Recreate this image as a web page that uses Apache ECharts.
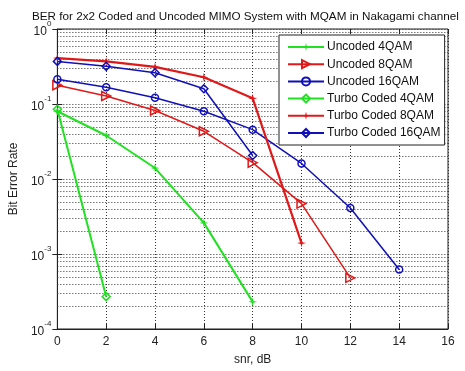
<!DOCTYPE html>
<html><head><meta charset="utf-8">
<script src="https://cdn.jsdelivr.net/npm/echarts@6/dist/echarts.min.js"></script>
<style>html,body{margin:0;padding:0;background:#fff}#c{width:465px;height:371px}</style>
</head><body><div id="c"></div>
<script>
var snr = [0, 2, 4, 6, 8, 10, 12, 14];
var uncoded4 = [0.08, 0.038, 0.014, 0.0026, 0.00023];
var uncoded8 = [0.178, 0.128, 0.082, 0.0433, 0.0165, 0.0047, 0.00048];
var uncoded16 = [0.214, 0.167, 0.121, 0.08, 0.0455, 0.0161, 0.0041, 0.00062];
var turbo4 = [0.085, 0.00027];
var turbo8 = [0.41, 0.37, 0.312, 0.227, 0.119, 0.0014];
var turbo16 = [0.37, 0.318, 0.261, 0.16, 0.0206];
var names = ['Uncoded 4QAM','Uncoded 8QAM','Uncoded 16QAM','Turbo Coded 4QAM','Turbo Coded 8QAM','Turbo Coded 16QAM'];
var decadeLabels = {'1':'0','0.1':'-1','0.01':'-2','0.001':'-3','0.0001':'-4'};

function pairs(arr){ return arr.map(function(v,i){ return [snr[i], v]; }); }

var minorVals = [];
for (var e = -4; e < 0; e++) for (var m = 2; m <= 9; m++) minorVals.push(m * Math.pow(10, e));

var GREEN = '#22e022', RED = '#e01818', BLUE = '#1010b8';
var CLEAR = 'rgba(255,255,255,0)';
var starPath = 'path://M5,0 L6,4 L10,5 L6,6 L5,10 L4,6 L0,5 L4,4 Z';
var grid = {left: 52, right: 17, top: 29, bottom: 31};
var dotted = {type: [1, 2], color: '#333', width: 1};

var chart = echarts.init(document.getElementById('c'));
chart.setOption({
  animation: false,
  backgroundColor: '#fff',
  textStyle: {fontFamily: 'Liberation Sans, Arial, sans-serif'},
  title: {text: 'BER for 2x2 Coded and Uncoded MIMO System with MQAM in Nakagami channel',
    left: 27, top: 6, textStyle: {fontSize: 11.7, fontWeight: 'normal', color: '#111', fontFamily: 'Liberation Sans, Arial, sans-serif'}},
  grid: Object.assign({show: true, borderColor: '#222', borderWidth: 1, backgroundColor: '#fff'}, grid),
  legend: {
    orient: 'vertical', left: 279, top: 35, data: names,
    itemWidth: 36, itemHeight: 10, itemGap: 5.2,
    padding: [6, 4, 6, 8],
    backgroundColor: '#fff', borderColor: '#222', borderWidth: 1, borderRadius: 0,
    textStyle: {fontSize: 12, color: '#111', padding: [0,0,0,-2]}
  },
  xAxis: [{
    type: 'value', min: 0, max: 16, interval: 2,
    name: 'snr, dB', nameLocation: 'middle', nameGap: 25,
    nameTextStyle: {fontSize: 12, color: '#222'},
    axisLine: {show: true, lineStyle: {color: '#222'}},
    axisTick: {show: true, inside: true, length: 5, lineStyle: {color: '#222'}},
    axisLabel: {fontSize: 12, color: '#222', margin: 7},
    splitLine: {show: true, lineStyle: dotted}
  }, {
    type: 'value', min: 0, max: 16, interval: 2, position: 'top',
    axisLine: {show: false}, axisLabel: {show: false},
    axisTick: {show: true, inside: true, length: 5, lineStyle: {color: '#222'}},
    splitLine: {show: false}
  }],
  yAxis: [{
    type: 'log', logBase: 10, min: 0.0001, max: 1,
    name: 'Bit Error Rate', nameLocation: 'middle', nameGap: 32,
    nameTextStyle: {fontSize: 12, color: '#222'},
    axisLine: {show: true, lineStyle: {color: '#222'}},
    axisTick: {show: true, inside: true, length: 5, lineStyle: {color: '#222'}},
    axisLabel: {
      margin: 6,
      formatter: function(v){
        var k = String(+v.toPrecision(3));
        var ex = decadeLabels[k];
        if (ex === undefined) ex = String(Math.round(Math.log10(v)));
        return '{a|10}{b|' + ex + '}';
      },
      rich: {a: {fontSize: 12, color: '#222', padding: [6,0,0,0]}, b: {fontSize: 8, color: '#222', verticalAlign: 'top', padding: [0,0,6,0]}}
    },
    splitLine: {show: true, lineStyle: dotted}
  }, {
    type: 'log', logBase: 10, min: 0.0001, max: 1, position: 'right',
    axisLine: {show: false}, axisLabel: {show: false},
    axisTick: {show: true, inside: true, length: 5, lineStyle: {color: '#222'}},
    splitLine: {show: false}
  }],
  series: [
    {type: 'custom', silent: true, z: 1, data: minorVals.map(function(v){ return [0, v]; }),
     renderItem: function(params, api){
       var p = api.coord([0, api.value(1)]);
       var cs = params.coordSys;
       return {type: 'line', shape: {x1: cs.x, y1: Math.round(p[1]) + 0.5, x2: cs.x + cs.width, y2: Math.round(p[1]) + 0.5},
         style: {stroke: '#333', lineDash: [1, 2], lineWidth: 1}};
     }},
    {name: names[0], type: 'line', data: pairs(uncoded4), color: GREEN, z: 3,
     symbol: starPath, symbolSize: 9, lineStyle: {width: 2, color: GREEN},
     itemStyle: {color: GREEN}},
    {name: names[1], type: 'line', data: pairs(uncoded8), color: RED, z: 3,
     symbol: 'triangle', symbolRotate: -90, symbolSize: 9, lineStyle: {width: 1.5, color: RED},
     itemStyle: {color: CLEAR, borderColor: RED, borderWidth: 1.5}},
    {name: names[2], type: 'line', data: pairs(uncoded16), color: BLUE, z: 3,
     symbol: 'circle', symbolSize: 7, lineStyle: {width: 1.5, color: BLUE},
     itemStyle: {color: CLEAR, borderColor: BLUE, borderWidth: 1.5}},
    {name: names[3], type: 'line', data: pairs(turbo4), color: GREEN, z: 3,
     symbol: 'diamond', symbolSize: 8, lineStyle: {width: 2, color: GREEN},
     itemStyle: {color: CLEAR, borderColor: GREEN, borderWidth: 1.5}},
    {name: names[4], type: 'line', data: pairs(turbo8), color: RED, z: 3,
     symbol: starPath, symbolSize: 9, lineStyle: {width: 2.2, color: RED},
     itemStyle: {color: RED}},
    {name: names[5], type: 'line', data: pairs(turbo16), color: BLUE, z: 3,
     symbol: 'diamond', symbolSize: 8, lineStyle: {width: 1.5, color: BLUE},
     itemStyle: {color: CLEAR, borderColor: BLUE, borderWidth: 1.5}}
  ]
});
</script></body></html>
